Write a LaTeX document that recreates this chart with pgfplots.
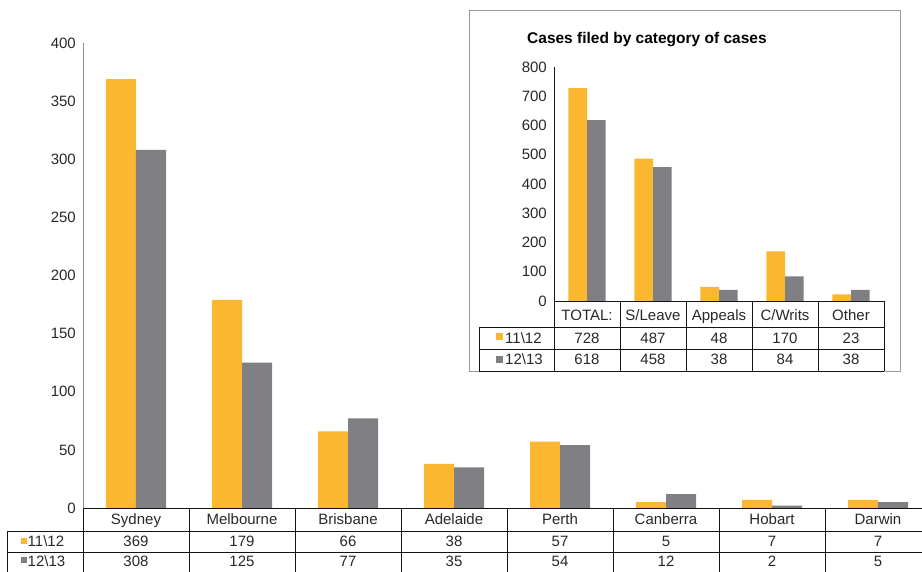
\documentclass[border=0pt]{standalone}
\usepackage{fontspec}
\setmainfont{Liberation Sans}
\usepackage{pgfplots}
\usepackage{pgfplotstable}
\pgfplotsset{compat=1.18}

\definecolor{barorange}{RGB}{251,183,48}
\definecolor{bargray}{RGB}{128,127,131}
\definecolor{txt}{RGB}{40,40,40}
\definecolor{rule}{RGB}{20,20,20}

% Cases filed by registry
\pgfplotstableread{
idx city      a   b
0   Sydney    369 308
1   Melbourne 179 125
2   Brisbane  66  77
3   Adelaide  38  35
4   Perth     57  54
5   Canberra  5   12
6   Hobart    7   2
7   Darwin    7   5
}\citydata

% Cases filed by category
\pgfplotstableread{
idx cat      a   b
0   TOTAL:   728 618
1   S/Leave  487 458
2   Appeals  48  38
3   C/Writs  170 84
4   Other    23  38
}\catdata

\begin{document}
\begin{tikzpicture}[x=1pt,y=1pt,font=\fontsize{15}{18}\selectfont,text=txt]
\useasboundingbox (0pt,0pt) rectangle (922pt,572pt);

% ---------- main chart ----------
\begin{axis}[
  at={(83pt,64pt)}, anchor=south west, scale only axis,
  width=848pt, height=465pt,
  xmin=-0.5, xmax=7.5, ymin=0, ymax=400,
  ytick={0,50,...,400}, xtick=\empty,
  axis lines*=left,
  x axis line style={draw=none},
  y axis line style={draw=gray!90},
  major tick length=0pt,
  yticklabel style={font=\fontsize{15}{18}\selectfont, text=txt, inner sep=0pt, xshift=-7pt},
  /pgf/number format/assume math mode=true,
  ybar, bar width=30pt,
  clip=false,
]
\addplot[fill=barorange, draw=none, bar shift=-15pt] table[x=idx,y=a]{\citydata};
\addplot[fill=bargray, draw=none, bar shift=15pt] table[x=idx,y=b]{\citydata};
\end{axis}

% data table under the main chart
\begin{scope}[draw=rule, line width=0.8pt]
  \draw (83,64) -- (931,64);
  \draw (7,41) -- (931,41);
  \draw (7,20) -- (931,20);
  \draw (7,0) -- (7,41);
  \foreach \k in {0,...,7} { \draw (83+106*\k,0) -- (83+106*\k,64); }
\end{scope}
\fill[barorange] (20.5,27.5) rectangle (26.5,33.5);
\fill[bargray] (20.5,9) rectangle (26.5,15);
\node[anchor=base west, inner sep=0pt] at (27.5,25) {11\textbackslash 12};
\node[anchor=base west, inner sep=0pt] at (27.5,5) {12\textbackslash 13};
\foreach \i in {0,...,7} {
  \pgfplotstablegetelem{\i}{city}\of\citydata
  \node[anchor=base, inner sep=0pt] at (136+106*\i,47) {\pgfplotsretval};
  \pgfplotstablegetelem{\i}{a}\of\citydata
  \node[anchor=base, inner sep=0pt] at (136+106*\i,25) {\pgfplotsretval};
  \pgfplotstablegetelem{\i}{b}\of\citydata
  \node[anchor=base, inner sep=0pt] at (136+106*\i,5) {\pgfplotsretval};
}

% ---------- inset chart ----------
\draw[gray!80, fill=white, line width=0.8pt] (469,201) rectangle (900,562);
\node[anchor=base west, inner sep=0pt, font=\fontsize{15.5}{18}\selectfont\bfseries, text=black] at (527,528) {Cases filed by category of cases};

\begin{axis}[
  at={(554pt,271pt)}, anchor=south west, scale only axis,
  width=330pt, height=234pt,
  xmin=-0.5, xmax=4.5, ymin=0, ymax=800,
  ytick={0,100,...,800}, xtick=\empty,
  axis lines*=left,
  x axis line style={draw=none},
  y axis line style={draw=rule},
  major tick length=0pt,
  yticklabel style={font=\fontsize{15}{18}\selectfont, text=txt, inner sep=0pt, xshift=-7pt},
  /pgf/number format/assume math mode=true,
  ybar, bar width=18.7pt,
  clip=false,
]
\addplot[fill=barorange, draw=none, bar shift=-9.35pt] table[x=idx,y=a]{\catdata};
\addplot[fill=bargray, draw=none, bar shift=9.35pt] table[x=idx,y=b]{\catdata};
\end{axis}

\begin{scope}[draw=rule, line width=0.8pt]
  \draw (554,271) -- (884,271);
  \draw (479,245) -- (884,245);
  \draw (479,223) -- (884,223);
  \draw (479,201) -- (884,201);
  \draw (479,201) -- (479,245);
  \foreach \k in {0,...,5} { \draw (554+66*\k,201) -- (554+66*\k,271); }
\end{scope}
\fill[barorange] (496,232) rectangle (503,239);
\fill[bargray] (496,209) rectangle (503,216);
\node[anchor=base west, inner sep=0pt] at (505,228) {11\textbackslash 12};
\node[anchor=base west, inner sep=0pt] at (505,207) {12\textbackslash 13};
\foreach \i in {0,...,4} {
  \pgfplotstablegetelem{\i}{cat}\of\catdata
  \node[anchor=base, inner sep=0pt] at (587+66*\i,251) {\pgfplotsretval};
  \pgfplotstablegetelem{\i}{a}\of\catdata
  \node[anchor=base, inner sep=0pt] at (587+66*\i,228) {\pgfplotsretval};
  \pgfplotstablegetelem{\i}{b}\of\catdata
  \node[anchor=base, inner sep=0pt] at (587+66*\i,207) {\pgfplotsretval};
}
\end{tikzpicture}
\end{document}
